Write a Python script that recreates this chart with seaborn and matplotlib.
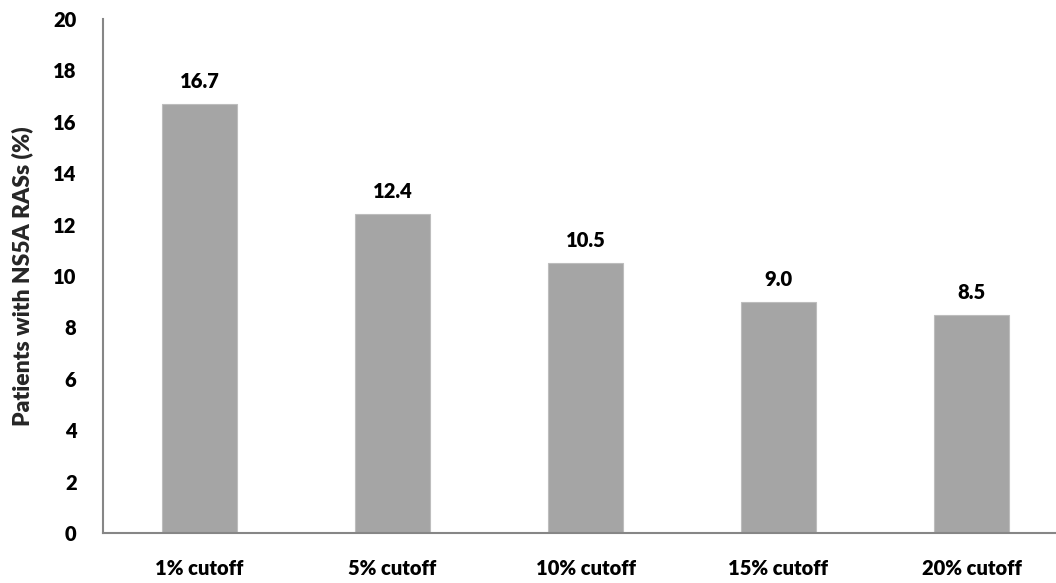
import matplotlib
matplotlib.use("Agg")
import matplotlib.pyplot as plt
import seaborn as sns
import pandas as pd
import numpy as np

categories = ["1% cutoff", "5% cutoff", "10% cutoff", "15% cutoff", "20% cutoff"]
values = [16.7, 12.4, 10.5, 9.0, 8.5]
y_ticks = [0, 2, 4, 6, 8, 10, 12, 14, 16, 18, 20]
y_label = "Patients with NS5A RASs (%)"

sns.set_theme(style="white")
plt.rcParams["font.family"] = ["Lato", "DejaVu Sans"]

FS = 14.5
W = "heavy"

df = pd.DataFrame({"cutoff": categories, "pct": values})

fig = plt.figure(figsize=(10.56, 5.83), dpi=100)
ax = fig.add_axes([103 / 1056, 50 / 583, 965 / 1056, 514 / 583])

sns.barplot(data=df, x="cutoff", y="pct", color="#A5A5A5", saturation=1,
            width=0.39, edgecolor="#BDBDBD", linewidth=0.8, ax=ax)

for i, v in enumerate(values):
    ax.text(i, v + 0.5, f"{v:.1f}", ha="center", va="bottom",
            fontsize=FS, fontweight=W, color="black")

ax.set_xlim(-0.5, len(categories) - 0.5)
ax.set_ylim(0, 20)
ax.set_yticks(y_ticks)
ax.set_yticklabels([str(t) for t in y_ticks], fontsize=FS, fontweight=W)
ax.set_xticks(range(len(categories)))
ax.set_xticklabels(categories, fontsize=FS, fontweight=W)
ax.set_xticks(np.arange(-0.5, len(categories), 1.0), minor=True)

ax.tick_params(axis="x", which="major", length=0, pad=19, colors="black")
ax.tick_params(axis="x", which="minor", length=7, width=1.3, color="#868686",
               direction="out")
ax.tick_params(axis="y", which="major", length=7, width=1.3, color="#868686",
               direction="out", pad=12, labelcolor="black")

ax.set_xlabel("")
ax.set_ylabel(y_label, fontsize=16.5, fontweight=W, labelpad=14)

for side in ["top", "right"]:
    ax.spines[side].set_visible(False)
for side in ["left", "bottom"]:
    ax.spines[side].set_color("#868686")
    ax.spines[side].set_linewidth(1.5)

fig.savefig("out.png", dpi=100)
